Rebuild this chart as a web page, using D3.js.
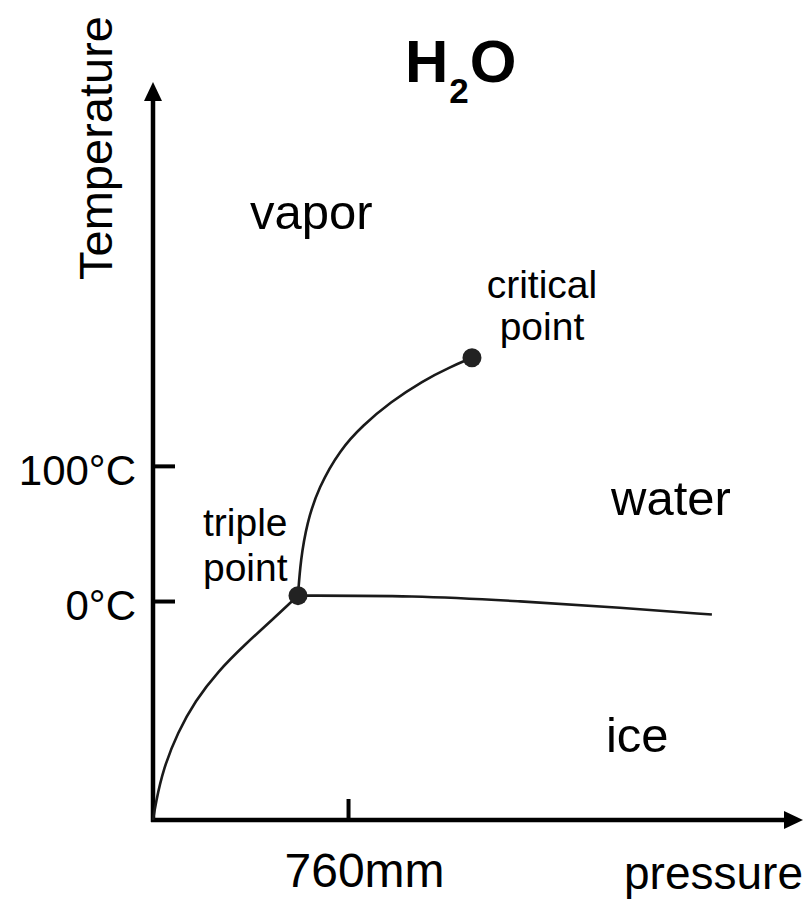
<!DOCTYPE html>
<html lang="en">
  <head>
    <meta charset="UTF-8" />
    <title>Phase Diagram: H2O</title>
    <script src="https://d3js.org/d3.v7.min.js"></script>
    <style>
      body { margin: 0; background: #fff; }
      text { font-family: "Liberation Sans", Arial, Helvetica, sans-serif; fill: #000; }
    </style>
  </head>
  <body>
    <div id="chart"></div>

    <script>
      // pressure (mm) vs temperature (°C)
      const sublimation = [[0, -162], [10, -150], [40, -124], [97, -97], [164, -74], [253, -52], [359, -32], [464, -14], [565, 4]];
      const vaporization = [[565, 4], [575, 30], [600, 58], [645, 84], [729, 112], [818, 130], [924, 147], [1052, 163], [1157, 173], [1243, 180]];
      const melting = [[565, 4], [1017, 4], [1422, 0], [1828, -5], [2178, -10]];

      const specialPoints = [
        { name: "triple", p: 565, t: 4 },
        { name: "critical", p: 1243, t: 180 },
      ];

      const phaseLabels = ["vapor", "water", "ice"];
      const phaseAnchors = [[378, 275], [1785, 64], [1765, -112]];

      const tempTicks = [100, 0];
      const tempTickLabels = ["100°C", "0°C"];
      const pressureTicks = [760];
      const pressureTickLabels = ["760mm"];

      const width = 808,
        height = 899;

      const svg = d3
        .select("#chart")
        .append("svg")
        .attr("width", width)
        .attr("height", height);

      const x = d3.scaleLinear().domain([0, 2533]).range([153, 803]);
      const y = d3.scaleLinear().domain([-162, 384]).range([820, 82]);

      // Title
      const title = svg
        .append("text")
        .attr("x", 405)
        .attr("y", 82)
        .attr("font-size", 60)
        .attr("font-weight", "bold");
      title.append("tspan").text("H");
      title.append("tspan").attr("font-size", 35).attr("dy", 21).attr("dx", 1).text("2");
      title.append("tspan").attr("dy", -21).attr("dx", 1).text("O");

      // Axes (ticks and labels through d3.axis, arrows drawn separately)
      const yAxis = svg
        .append("g")
        .attr("transform", `translate(${x(0)},0)`)
        .call(
          d3
            .axisLeft(y)
            .tickValues(tempTicks)
            .tickFormat((d, i) => tempTickLabels[i])
            .tickSize(-22)
            .tickSizeOuter(0)
            .tickPadding(17)
        );
      yAxis.select(".domain").remove();
      yAxis.selectAll(".tick line").attr("stroke", "#000").attr("stroke-width", 4);
      yAxis
        .selectAll(".tick text")
        .attr("font-size", 42)
        .attr("dy", "0.44em")
        .style("font-family", "'Liberation Sans', Arial, sans-serif")
        .attr("fill", "#000");

      const xAxis = svg
        .append("g")
        .attr("transform", `translate(0,${y(-162)})`)
        .call(
          d3
            .axisBottom(x)
            .tickValues(pressureTicks)
            .tickFormat((d, i) => pressureTickLabels[i])
            .tickSize(-21)
            .tickSizeOuter(0)
            .tickPadding(0)
        );
      xAxis.select(".domain").remove();
      xAxis.selectAll(".tick line").attr("stroke", "#000").attr("stroke-width", 4);
      xAxis
        .selectAll(".tick text")
        .attr("font-size", 48)
        .attr("x", 16)
        .attr("y", 67)
        .attr("dy", 0)
        .style("font-family", "'Liberation Sans', Arial, sans-serif")
        .attr("fill", "#000");

      // axis lines with arrowheads
      const x0 = x(0),
        y0 = y(-162),
        xTip = x(2533),
        yTip = y(384);
      svg
        .append("path")
        .attr("d", `M${x0},${y0 + 2}V${yTip + 10}`)
        .attr("stroke", "#000")
        .attr("stroke-width", 4.5)
        .attr("fill", "none");
      svg
        .append("path")
        .attr("d", `M${x0 - 2},${y0}H${xTip - 10}`)
        .attr("stroke", "#000")
        .attr("stroke-width", 4.5)
        .attr("fill", "none");
      svg
        .append("path")
        .attr("d", `M${x0},${yTip}L${x0 - 9},${yTip + 19}L${x0 + 9},${yTip + 19}Z`)
        .attr("fill", "#000");
      svg
        .append("path")
        .attr("d", `M${xTip},${y0}L${xTip - 19},${y0 - 9}L${xTip - 19},${y0 + 9}Z`)
        .attr("fill", "#000");

      // axis titles
      svg
        .append("text")
        .attr("transform", `translate(112,148) rotate(-90)`)
        .attr("text-anchor", "middle")
        .attr("font-size", 47)
        .text("Temperature");
      svg
        .append("text")
        .attr("x", 803)
        .attr("y", 889)
        .attr("text-anchor", "end")
        .attr("font-size", 46)
        .text("pressure");

      // phase boundaries
      const line = d3
        .line()
        .x((d) => x(d[0]))
        .y((d) => y(d[1]))
        .curve(d3.curveBasis);

      svg
        .append("g")
        .selectAll("path")
        .data([sublimation, vaporization, melting])
        .join("path")
        .attr("d", line)
        .attr("fill", "none")
        .attr("stroke", "#1a1a1a")
        .attr("stroke-width", 2.6);

      svg
        .append("g")
        .selectAll("circle")
        .data(specialPoints)
        .join("circle")
        .attr("cx", (d) => x(d.p))
        .attr("cy", (d) => y(d.t))
        .attr("r", 9.5)
        .attr("fill", "#222");

      // point labels
      const triple = specialPoints[0],
        critical = specialPoints[1];
      svg
        .append("g")
        .attr("font-size", 39)
        .selectAll("text")
        .data(["triple", "point"])
        .join("text")
        .attr("x", x(triple.p) - 95)
        .attr("y", (d, i) => y(triple.t) - 60 + i * 45)
        .text((d) => d);
      svg
        .append("g")
        .attr("font-size", 39)
        .attr("text-anchor", "middle")
        .selectAll("text")
        .data(["critical", "point"])
        .join("text")
        .attr("x", x(critical.p) + 70)
        .attr("y", (d, i) => y(critical.t) - 60 + i * 42)
        .text((d) => d);

      // phase labels
      svg
        .append("g")
        .attr("font-size", 49)
        .selectAll("text")
        .data(phaseLabels)
        .join("text")
        .attr("x", (d, i) => x(phaseAnchors[i][0]))
        .attr("y", (d, i) => y(phaseAnchors[i][1]))
        .text((d) => d);
    </script>
  </body>
</html>
